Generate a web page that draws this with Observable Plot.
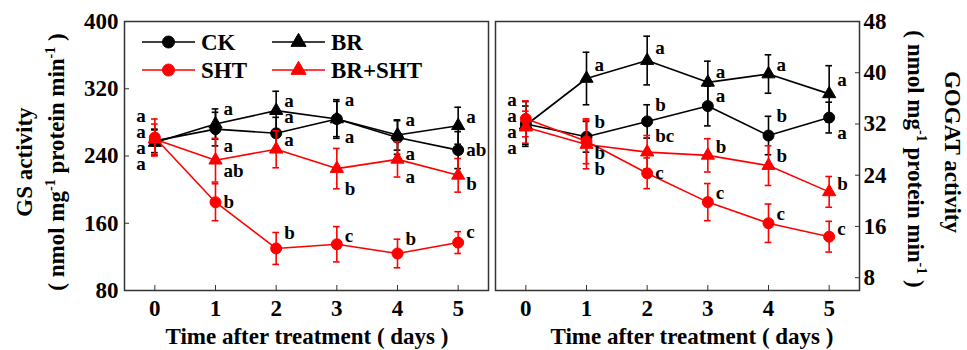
<!DOCTYPE html>
<html><head><meta charset="utf-8">
<script src="https://cdn.jsdelivr.net/npm/d3@7"></script>
<script src="https://cdn.jsdelivr.net/npm/@observablehq/plot@0.6"></script>
<style>
html,body{margin:0;padding:0;background:#fff;}
#chart{position:relative;width:967px;height:350px;overflow:hidden;background:#fff;}
#chart svg{position:absolute;top:0;}
</style></head><body><div id="chart"></div>
<script>
// ---------- data ----------
const days = [0, 1, 2, 3, 4, 5];
const seriesNames = ["CK", "BR", "SHT", "BR+SHT"];
const gsTicks = [80, 160, 240, 320, 400];
const gogatTicks = [8, 16, 24, 32, 40, 48];

// GS activity (nmol mg-1 protein min-1)
const gsCK = [258, 272, 267, 284, 262, 247];
const gsCKErr = [14, 20, 19, 21, 20, 22];
const gsBR = [256, 278, 294, 284, 265, 276];
const gsBRErr = [15, 18, 23, 23, 18, 22];
const gsSHT = [262, 185, 130, 135, 124, 137];
const gsSHTErr = [22, 22, 19, 21, 17, 13];
const gsBRSHT = [260, 235, 248, 225, 236, 217];
const gsBRSHTErr = [18, 26, 22, 24, 21, 20];
const gsCKLetters = ["a", "a", "a", "a", "a", "ab"];
const gsBRLetters = ["a", "a", "a", "a", "a", "a"];
const gsSHTLetters = ["a", "b", "b", "c", "b", "c"];
const gsBRSHTLetters = ["a", "ab", "a", "b", "a", "b"];
// which end of the error bar each letter sits by
const gsCKSide = ["stack", "dn", "up", "dn", "dn", "at"];
const gsBRSide = ["stack", "up", "hi", "up", "up", "hi"];
const gsSHTSide = ["stack", "at", "up", "hi", "up", "up"];
const gsBRSHTSide = ["stack", "lo", "hi", "dn", "dn", "lo"];

// GOGAT activity
const goCK = [32.0, 30.0, 32.4, 34.8, 30.2, 33.0];
const goCKErr = [3.5, 2.4, 2.6, 3.1, 3.0, 2.4];
const goBR = [31.8, 39.1, 41.9, 38.5, 39.8, 36.7];
const goBRErr = [3.0, 4.1, 3.8, 3.3, 3.0, 4.4];
const goSHT = [32.8, 29.3, 24.3, 19.8, 16.5, 14.4];
const goSHTErr = [2.8, 3.5, 2.4, 2.9, 3.0, 2.4];
const goBRSHT = [31.5, 28.8, 27.6, 27.1, 25.5, 21.4];
const goBRSHTErr = [2.5, 3.8, 2.6, 2.6, 3.1, 2.4];
const goCKLetters = ["a", "b", "b", "a", "b", "a"];
const goBRLetters = ["a", "a", "a", "a", "a", "a"];
const goSHTLetters = ["a", "b", "c", "c", "c", "c"];
const goBRSHTLetters = ["a", "b", "bc", "b", "b", "b"];
const goCKSide = ["stack", "up", "up", "hi", "up", "dn"];
const goBRSide = ["stack", "hi", "hi", "hi", "hi", "hi"];
const goSHTSide = ["stack", "lo", "at", "hi", "hi", "hi"];
const goBRSHTSide = ["stack", "dn", "up", "hi", "hi", "hi"];

// ---------- helpers ----------
const FONT = '"Liberation Serif", Tinos, "Times New Roman", "DejaVu Serif", serif';
const RED = "#ff0000";
const colors = {"CK": "#000", "BR": "#000", "SHT": RED, "BR+SHT": RED};
const symbols = {"CK": "circle", "BR": "triangle", "SHT": "circle", "BR+SHT": "triangle"};

function rows(name, vals, errs, letters, sides) {
  return days.map((d, i) => ({day: d, v: vals[i], e: errs[i], letter: letters[i], side: sides[i], series: name}));
}
function labelY(r) {
  switch (r.side) {
    case "up": return r.v + r.e;
    case "hi": return r.v + r.e / 2;
    case "lo": return r.v - r.e / 2;
    case "dn": return r.v - r.e;
    default: return r.v;
  }
}

function panel(data, {yDomain, yTicks, width, marginLeft, marginRight, yAnchor, labelPad}) {
  const day0 = d3.mean(data.filter(r => r.day === 0), r => r.v);
  const marks = [
    Plot.axisX({ticks: days, tickSize: -5, tickPadding: 14, tickFormat: "d", label: null, stroke: "#333"}),
    Plot.axisY({anchor: yAnchor, ticks: yTicks, tickSize: -5, tickPadding: labelPad, label: null, stroke: "#333"}),
    Plot.frame({stroke: "#333", strokeWidth: 1.5})
  ];
  const capHalf = 0.055;
  for (const name of seriesNames) {
    const s = data.filter(r => r.series === name);
    const c = colors[name];
    marks.push(Plot.line(s, {x: "day", y: "v", stroke: c, strokeWidth: 1.6}));
    marks.push(Plot.ruleX(s, {x: "day", y1: r => r.v - r.e, y2: r => r.v + r.e, stroke: c, strokeWidth: 1.6}));
    marks.push(Plot.ruleY(s, {y: r => r.v + r.e, x1: r => r.day - capHalf, x2: r => r.day + capHalf, stroke: c, strokeWidth: 1.6}));
    marks.push(Plot.ruleY(s, {y: r => r.v - r.e, x1: r => r.day - capHalf, x2: r => r.day + capHalf, stroke: c, strokeWidth: 1.6}));
    marks.push(Plot.dot(s, {x: "day", y: "v", fill: c, stroke: c, strokeWidth: 1, symbol: symbols[name], r: symbols[name] === "circle" ? 5.5 : 4.9}));
  }
  // significance letters
  marks.push(Plot.text(data.filter(r => r.day > 0), {
    x: "day", y: labelY, text: "letter", textAnchor: "start", dx: 8,
    fontSize: 19, fontWeight: "bold", fill: "#000"
  }));
  seriesNames.forEach((name, i) => {
    marks.push(Plot.text(data.filter(r => r.day === 0 && r.series === name), {
      x: "day", y: () => day0, text: "letter", textAnchor: "end", dx: -9, dy: (i - 1.5) * 16,
      fontSize: 19, fontWeight: "bold", fill: "#000"
    }));
  });
  return Plot.plot({
    width, height: 350,
    marginLeft, marginRight, marginTop: 21, marginBottom: 60,
    x: {domain: [-0.5, 5.5]},
    y: {domain: yDomain},
    style: {fontFamily: FONT, fontSize: "23px", fontWeight: "bold", background: "transparent", overflow: "visible", color: "#000"},
    marks
  });
}

const gsData = [
  ...rows("CK", gsCK, gsCKErr, gsCKLetters, gsCKSide),
  ...rows("BR", gsBR, gsBRErr, gsBRLetters, gsBRSide),
  ...rows("SHT", gsSHT, gsSHTErr, gsSHTLetters, gsSHTSide),
  ...rows("BR+SHT", gsBRSHT, gsBRSHTErr, gsBRSHTLetters, gsBRSHTSide)
];
const goData = [
  ...rows("CK", goCK, goCKErr, goCKLetters, goCKSide),
  ...rows("BR", goBR, goBRErr, goBRLetters, goBRSide),
  ...rows("SHT", goSHT, goSHTErr, goSHTLetters, goSHTSide),
  ...rows("BR+SHT", goBRSHT, goBRSHTErr, goBRSHTLetters, goBRSHTSide)
];

const left = panel(gsData, {yDomain: [80, 400], yTicks: gsTicks, width: 490, marginLeft: 124, marginRight: 2, yAnchor: "left", labelPad: 11});
const right = panel(goData, {yDomain: [6, 48], yTicks: gogatTicks, width: 477, marginLeft: 5, marginRight: 108, yAnchor: "right", labelPad: 9});
left.style.left = "0px";
right.style.left = "490px";
const chart = document.getElementById("chart");
chart.appendChild(left);
chart.appendChild(right);

// ---------- titles ----------
function textBase(sel) {
  return sel.attr("font-family", FONT).attr("font-weight", "bold").attr("font-size", 23).attr("fill", "#000");
}
function unitTitle(sel, x, y, rot) {
  const t = textBase(sel.append("text")
    .attr("transform", `translate(${x},${y}) rotate(${rot})`)
    .attr("text-anchor", "middle"));
  t.append("tspan").text("( nmol mg");
  t.append("tspan").attr("font-size", 14).attr("dy", -9).text("-1");
  t.append("tspan").attr("dy", 9).text(" protein min");
  t.append("tspan").attr("font-size", 14).attr("dy", -9).text("-1");
  t.append("tspan").attr("dy", 9).text(" )");
}
function plainTitle(sel, x, y, rot, txt) {
  textBase(sel.append("text")
    .attr("transform", `translate(${x},${y}) rotate(${rot})`)
    .attr("text-anchor", "middle"))
    .text(txt);
}
const L = d3.select(left), R = d3.select(right);
plainTitle(L, 32, 162, -90, "GS activity");
unitTitle(L, 64, 162, -90);
plainTitle(L, 307, 344, 0, "Time after treatment ( days )");
plainTitle(R, 945 - 490, 152, 90, "GOGAT activity");
unitTitle(R, 908 - 490, 159, 90);
plainTitle(R, 692 - 490, 344, 0, "Time after treatment ( days )");

// ---------- legend ----------
const legendItems = [
  {name: "CK", lx: 142, ty: 42},
  {name: "BR", lx: 272, ty: 42},
  {name: "SHT", lx: 142, ty: 70},
  {name: "BR+SHT", lx: 272, ty: 70}
];
const lg = L.append("g");
for (const it of legendItems) {
  const c = colors[it.name];
  lg.append("line").attr("x1", it.lx).attr("x2", it.lx + 53).attr("y1", it.ty).attr("y2", it.ty)
    .attr("stroke", c).attr("stroke-width", 1.6);
  const sym = symbols[it.name] === "circle" ? d3.symbolCircle : d3.symbolTriangle;
  const size = symbols[it.name] === "circle" ? Math.PI * 6 * 6 : Math.PI * 5.6 * 5.6;
  lg.append("path").attr("d", d3.symbol(sym, size)()).attr("transform", `translate(${it.lx + 26.5},${it.ty})`)
    .attr("fill", c).attr("stroke", c);
  textBase(lg.append("text").attr("x", it.lx + 59).attr("y", it.ty + 7.5).attr("text-anchor", "start"))
    .text(it.name);
}
</script></body></html>
